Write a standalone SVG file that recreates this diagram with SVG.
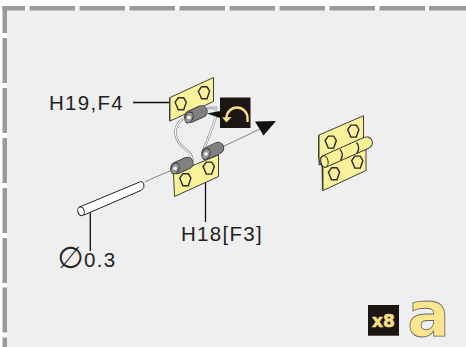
<svg xmlns="http://www.w3.org/2000/svg" width="466" height="347" viewBox="0 0 466 347">
<defs>
<style>
.t{font-family:"Liberation Sans",Arial,sans-serif;font-size:20.500px;letter-spacing:1.3px;fill:#231f20}
.plate{fill:#faf29a;stroke:#2a2a2a;stroke-width:.9;stroke-linejoin:round}
.edge{fill:#4a4a3a}
.hole{fill:#faf29a;stroke:#2a2a2a;stroke-width:1.4}
.lead{stroke:#111;stroke-width:1.3;fill:none}
.thin{stroke:#777;stroke-width:.9;fill:none}
.gc{stroke:#333;stroke-width:12.400;stroke-linecap:round;fill:none}
.gf{stroke:#808080;stroke-width:11;stroke-linecap:round;fill:none}
.wo{stroke:#777;stroke-width:2.300;fill:none}
.wi{stroke:#fff;stroke-width:1.200;fill:none}
.dash{fill:#9a9a9a}
</style>
<polygon id="hex" points="-5.6,-1.8 -2.4,-6.2 3,-6.2 5.6,-1.8 3,5.8 -2.4,5.8" class="hole"/>
</defs>
<rect width="466" height="347" fill="#fff"/>
<rect x="7" y="10" width="459" height="337" fill="#efefef"/>
<g id="frame">
<rect class="dash" x="2.5" y="6" width="22.5" height="4.5"/>
<rect class="dash" x="29.5" y="6" width="45.5" height="4.5"/>
<rect class="dash" x="79.5" y="6" width="45.5" height="4.5"/>
<rect class="dash" x="129.5" y="6" width="45.5" height="4.5"/>
<rect class="dash" x="179.5" y="6" width="45.5" height="4.5"/>
<rect class="dash" x="229.5" y="6" width="45.5" height="4.5"/>
<rect class="dash" x="279.5" y="6" width="45.5" height="4.5"/>
<rect class="dash" x="329.5" y="6" width="45.5" height="4.5"/>
<rect class="dash" x="379.5" y="6" width="45.5" height="4.5"/>
<rect class="dash" x="429" y="6" width="37" height="4.5"/>
<rect class="dash" x="2.5" y="6" width="4.5" height="27"/>
<rect class="dash" x="2.5" y="38" width="4.5" height="45"/>
<rect class="dash" x="2.5" y="88" width="4.5" height="45"/>
<rect class="dash" x="2.5" y="138" width="4.5" height="45"/>
<rect class="dash" x="2.5" y="188" width="4.5" height="45"/>
<rect class="dash" x="2.5" y="238" width="4.5" height="45"/>
<rect class="dash" x="2.5" y="287.500" width="4.5" height="45"/>
<rect class="dash" x="2.5" y="337.500" width="4.5" height="9.500"/>
</g>
<g id="connectors">
<path class="lead" d="M133 102.500H170"/>
<path class="lead" d="M205.500 181V222"/>
<path class="lead" d="M90.300 212V251"/>
<path class="thin" d="M145 181.700L172 170"/>
<path class="thin" d="M220 148L260 129"/>
<polygon points="255,121.500 276,121 263.500,135.500" fill="#111"/>
</g>
<g id="hinge-upper">
<polygon class="edge" points="169,97.500 171.500,98 171.500,120 169,121.500"/>
<polygon class="plate" points="170,97.500 213.500,77.500 213.500,101.500 170,121"/>
<use href="#hex" x="180.700" y="104"/>
<use href="#hex" x="204" y="93"/>
</g>
<g id="hinge-lower">
<polygon class="plate" points="173.500,173.500 218.500,155 218.500,176.500 174.500,196.500"/>
<use href="#hex" x="185.300" y="180"/>
<use href="#hex" x="208.700" y="168.300"/>
</g>
<g id="wires">
<path class="wo" d="M190 116C178 119 174 128 176 136C178 148 192 150 192.500 160"/>
<path class="wi" d="M190 116C178 119 174 128 176 136C178 148 192 150 192.500 160"/>
<path class="wo" d="M207 108H216V116C212 130 207 140 203 152"/>
<path class="wi" d="M207 108H216V116C212 130 207 140 203 152"/>
</g>
<g id="barrels">
<path class="gc" d="M190.500 116.500L201.500 111.500"/><path class="gf" d="M190.500 116.500L201.500 111.500"/>
<ellipse cx="189" cy="117.500" rx="3.800" ry="5.600" transform="rotate(22 189 117.500)" fill="#999" stroke="#333"/><circle cx="189" cy="117.500" r="1.800" fill="#fff"/>
<path class="gc" d="M176.500 168L187.500 163"/><path class="gf" d="M176.500 168L187.500 163"/>
<ellipse cx="175" cy="168.500" rx="3.800" ry="5.600" transform="rotate(22 175 168.500)" fill="#999" stroke="#333"/><circle cx="175" cy="168.500" r="1.800" fill="#fff"/>
<path class="gc" d="M207.500 153L218 148"/><path class="gf" d="M207.500 153L218 148"/>
<ellipse cx="206" cy="154" rx="3.800" ry="5.600" transform="rotate(22 206 154)" fill="#999" stroke="#333"/><circle cx="206" cy="154" r="1.800" fill="#fff"/>
</g>
<g id="rotate-icon">
<rect x="220" y="97.500" width="30.500" height="30.500" fill="#1c1714"/>
<polygon points="207,113.500 220,111 220,118" fill="#111"/>
<path d="M247.500 122V118A10.500 10.500 0 0 0 226.500 118V119" fill="none" stroke="#f7df86" stroke-width="2.400"/>
<polygon points="222,117.500 231.500,117 226.500,122.500" fill="#f7df86"/>
</g>
<g id="rod">
<polygon points="79.500,207 139,182.300 141.500,190.200 83,215.500" fill="#fff"/>
<path d="M79.500 207L139 182.300M84 215L141.500 190.200" stroke="#222" stroke-width="1" fill="none"/>
<path d="M139 182.300A3.200 4.300 22 0 1 141.500 190.200" stroke="#222" fill="#fff"/>
<ellipse cx="81" cy="211.300" rx="3.200" ry="4.400" transform="rotate(-15 81 211.300)" fill="#fff" stroke="#222"/>
</g>
<g id="hinge-assembled">
<polygon class="edge" points="318,135 320,135 320,158 318,159"/>
<polygon class="plate" points="319,135 363.500,115.700 363.500,150 319,165"/>
<polygon class="edge" points="321.500,165 323.500,165 323.500,190 322,191"/>
<polygon class="plate" points="323,165 366,148 366,170.500 323,190.500"/>
<use href="#hex" x="330.700" y="142.300"/>
<use href="#hex" x="353.300" y="131.300"/>
<use href="#hex" x="357.300" y="162.300"/>
<use href="#hex" x="334" y="174"/>
<path d="M325.500 161L366.500 142.700" stroke="#222" stroke-width="12.600" stroke-linecap="round"/>
<path d="M325.500 161L366.500 142.700" stroke="#faf29a" stroke-width="10.800" stroke-linecap="round"/>
<ellipse cx="324.500" cy="161.500" rx="3.600" ry="5.800" fill="#faf29a" stroke="#222" transform="rotate(-10 324.500 161.500)"/>
<path d="M340 149.500C343 152 343 157 340.500 160M356.500 142.500C359 145 359.500 150 357 153" fill="none" stroke="#222" stroke-width="1.300"/>
</g>
<g id="labels">
<text class="t" x="49" y="110">H19,F4</text>
<text class="t" x="181" y="241">H18[F3]</text>
<text class="t" x="84" y="267">0.3</text>
<text x="70.500" y="268" text-anchor="middle" style="font-family:'DejaVu Sans',sans-serif;font-size:30px;fill:#231f20">∅</text>
</g>
<g id="badge">
<rect x="368" y="305" width="31" height="30.700" fill="#1c1714"/>
<text x="383.500" y="327" text-anchor="middle" style="font-family:'DejaVu Sans',sans-serif;font-weight:bold;font-size:17px;fill:#f7df86;stroke:#f7df86;stroke-width:.6">x8</text>
<text x="428.500" y="336" text-anchor="middle" style="font-family:'DejaVu Sans',sans-serif;font-weight:bold;font-size:63px;fill:#fbe68e;stroke:#666;stroke-width:.8">a</text>
</g>
</svg>
